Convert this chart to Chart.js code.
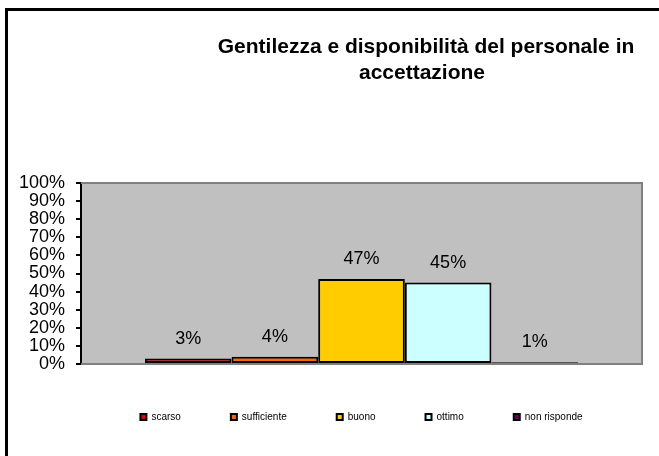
<!DOCTYPE html>
<html><head><meta charset="utf-8">
<script src="https://cdn.jsdelivr.net/npm/chart.js@4.4.1/dist/chart.umd.min.js"></script>
<style>html,body{margin:0;padding:0;background:#fff}#wrap{width:659px;height:456px;position:relative}canvas{display:block}</style>
</head><body><div id="wrap"><canvas id="c" width="659" height="456"></canvas></div>
<script>
const titleLines = ['Gentilezza e disponibilità del personale in', 'accettazione'];
const categories = [''];
const seriesNames = ['scarso', 'sufficiente', 'buono', 'ottimo', 'non risponde'];
const seriesValues = [3, 4, 47, 45, 1];
const seriesColors = ['#E00000', '#FF6600', '#FFCC00', '#CCFFFF', '#660066'];
const yTickValues = [0, 10, 20, 30, 40, 50, 60, 70, 80, 90, 100];

const FONT = 'Arial, "Liberation Sans", sans-serif';
Chart.defaults.font.family = FONT;
Chart.defaults.color = '#000';

const framePlugin = {
  id: 'frame',
  beforeDraw(chart) {
    const {ctx, chartArea: a} = chart;
    ctx.save();
    ctx.fillStyle = '#fff';
    ctx.fillRect(0, 0, chart.width, chart.height);
    ctx.fillStyle = '#000';
    ctx.fillRect(5, 8, 3, chart.height);
    ctx.fillRect(5, 8, chart.width, 3);
    ctx.fillStyle = '#C0C0C0';
    ctx.fillRect(a.left, a.top, a.right - a.left, a.bottom - a.top);
    ctx.restore();
  },
  beforeDatasetsDraw(chart) {
    const {ctx, chartArea: a} = chart;
    ctx.save();
    ctx.strokeStyle = '#808080';
    ctx.lineWidth = 2;
    ctx.beginPath();
    ctx.moveTo(a.left, a.top);
    ctx.lineTo(a.right, a.top);
    ctx.lineTo(a.right, a.bottom);
    ctx.lineTo(a.left, a.bottom);
    ctx.stroke();
    ctx.restore();
  },
  afterLayout(chart) {
    if (chart.legend) { chart.legend.top -= 2; chart.legend.bottom -= 2; }
  },
  afterDatasetsDraw(chart) {
    const {ctx} = chart;
    ctx.save();
    ctx.fillStyle = '#000';
    ctx.font = '18px ' + FONT;
    ctx.textAlign = 'center';
    ctx.textBaseline = 'middle';
    chart.data.datasets.forEach((ds, i) => {
      const meta = chart.getDatasetMeta(i);
      meta.data.forEach((el, j) => {
        ctx.fillText(ds.data[j] + '%', el.x, el.y - 20);
      });
    });
    ctx.restore();
  },
  afterDraw(chart) {
    const {ctx} = chart;
    ctx.save();
    ctx.fillStyle = '#000';
    ctx.font = 'bold 21px ' + FONT;
    ctx.textAlign = 'center';
    ctx.textBaseline = 'alphabetic';
    ctx.fillText(titleLines[0], 426, 53);
    ctx.fillText(titleLines[1], 422, 79);
    ctx.restore();
  }
};

new Chart(document.getElementById('c'), {
  type: 'bar',
  data: {
    labels: categories,
    datasets: seriesNames.map((n, i) => ({
      label: n,
      data: [seriesValues[i]],
      backgroundColor: seriesColors[i],
      borderColor: '#000',
      borderWidth: 2,
      borderSkipped: false,
      inflateAmount: 0
    }))
  },
  options: {
    responsive: false,
    animation: false,
    devicePixelRatio: 1,
    layout: {padding: {top: 183, right: 17, bottom: 22, left: 0}},
    datasets: {bar: {categoryPercentage: 0.772, barPercentage: 1.0}},
    scales: {
      x: {display: false},
      y: {
        min: 0, max: 100,
        afterFit(s) { s.width = 81; },
        afterBuildTicks(s) { s.ticks = yTickValues.map(v => ({value: v})); },
        ticks: {
          autoSkip: false,
          callback: v => v + '%',
          color: '#000',
          font: {size: 18},
          padding: 11
        },
        grid: {drawOnChartArea: false, drawTicks: true, tickLength: 5, color: '#000', lineWidth: 2},
        border: {display: true, color: '#000', width: 2}
      }
    },
    plugins: {
      title: {display: false},
      tooltip: {enabled: false},
      legend: {
        position: 'bottom',
        fullSize: false,
        labels: {boxWidth: 6, boxHeight: 6, padding: 50, color: '#000', font: {size: 10}}
      }
    }
  },
  plugins: [framePlugin]
});
</script>
</body></html>
